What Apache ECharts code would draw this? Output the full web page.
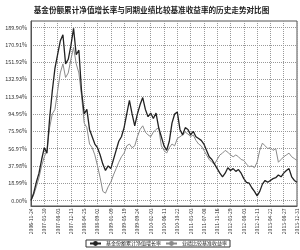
<!DOCTYPE html>
<html><head><meta charset="utf-8">
<script src="https://cdn.jsdelivr.net/npm/echarts@6/dist/echarts.min.js"></script>
<style>html,body{margin:0;padding:0;background:#fff}#c{width:300px;height:250px}</style>
</head><body><div id="c"></div>
<script>
var titleText = '基金份额累计净值增长率与同期业绩比较基准收益率的历史走势对比图';
var seriesNames = ['基金份额累计净值增长率', '业绩比较基准收益率'];
var tickLabels = ['2006-11-24','2007-03-30','2007-08-03','2007-12-13','2008-04-25','2008-09-02','2009-01-09','2009-05-19','2009-09-24','2010-02-03','2010-06-11','2010-10-22','2011-03-03','2011-07-08','2011-11-16','2012-03-29','2012-08-03','2012-12-11','2013-04-22','2013-08-27','2013-12-31'];
var yTicks = [0, 18.99, 37.98, 56.97, 75.96, 94.95, 113.94, 132.93, 151.92, 170.91, 189.90];
var fundValues = [0,8,20,30,45,58,52,90,120,145,160,175,182,150,155,170,189,160,165,120,95,100,78,70,62,58,50,40,33,38,35,45,55,65,70,80,95,110,95,82,95,105,113,100,92,96,90,96,80,70,60,55,65,85,95,97,78,72,80,78,72,76,70,68,66,62,55,48,45,40,35,30,26,30,36,33,35,32,34,30,24,20,19,14,10,5,10,18,22,20,22,24,25,28,26,30,33,35,26,22,20];
var benchValues = [0,6,15,25,38,48,55,80,95,100,120,140,150,135,140,155,168,150,140,115,85,80,62,58,50,38,25,10,8,15,20,28,35,42,48,52,60,62,58,60,70,78,82,75,72,70,75,78,80,60,55,52,58,62,60,68,70,72,75,73,70,72,66,62,60,55,50,45,42,40,45,50,52,55,53,50,48,50,48,45,44,40,37,38,36,42,55,63,60,57,58,55,57,42,45,48,50,52,48,46,44];
var pointsPerTick = 5;
var categories = fundValues.map(function(_, i){ return 'p' + i; });

var chart = echarts.init(document.getElementById('c'), null, {renderer:'canvas'});
var step = yTicks[1] - yTicks[0];
var gridLine = {color:'#999', type:'dotted', width:1};
chart.setOption({
  animation:false,
  textStyle:{fontFamily:'"Noto Sans CJK SC", "DejaVu Sans", sans-serif'},
  graphic:[{
    type:'text', x:151.5, y:10, scaleX:0.76, scaleY:0.76,
    style:{text:titleText, fontSize:10, fontWeight:'bold', fill:'#222', align:'center', verticalAlign:'middle',
      fontFamily:'"Noto Sans CJK SC", sans-serif'}
  }],
  legend:{bottom:3, left:86, orient:'horizontal', itemGap:4, itemWidth:11, itemHeight:6,
    borderColor:'#333', borderWidth:1, padding:[1,3,1,3],
    textStyle:{fontSize:5, color:'#222', fontFamily:'"Noto Sans CJK SC", sans-serif'},
    data:seriesNames},
  grid:[
    {left:31, right:3, top:27.5, bottom:49.5, show:false},
    {left:31, right:3, top:21, bottom:44, show:true, borderColor:'#555', borderWidth:1}
  ],
  xAxis:[
    {type:'category', gridIndex:0, boundaryGap:false, data:categories,
      axisLine:{show:false}, axisTick:{show:false},
      axisLabel:{interval:pointsPerTick-1, rotate:90, fontSize:5, color:'#333', margin:8,
        formatter:function(v, idx){ return tickLabels[Math.round(idx/pointsPerTick)] || ''; }},
      splitLine:{show:false}
    },
    {type:'category', gridIndex:1, boundaryGap:false, data:categories,
      axisLine:{show:true, lineStyle:{color:'#555', width:1}}, axisTick:{show:false}, axisLabel:{show:false},
      splitLine:{show:true, interval:pointsPerTick-1, lineStyle:gridLine}
    }
  ],
  yAxis:[
    {type:'value', gridIndex:0, min:0, max:yTicks[yTicks.length-1], interval:step,
      axisLine:{show:false}, axisTick:{show:false},
      axisLabel:{fontSize:5.5, color:'#333', margin:4,
        formatter:function(v){
          var best = yTicks[0];
          for (var k=0;k<yTicks.length;k++){ if (Math.abs(v-yTicks[k]) < Math.abs(v-best)) best = yTicks[k]; }
          return best.toFixed(2)+'%';
        }},
      splitLine:{show:true, lineStyle:gridLine}
    },
    {type:'value', gridIndex:1, min:0, max:1, axisLine:{show:true, lineStyle:{color:'#555'}}, axisTick:{show:false}, axisLabel:{show:false}, splitLine:{show:false}}
  ],
  series:[
    {name:seriesNames[0], type:'line', xAxisIndex:0, yAxisIndex:0, data:fundValues, showSymbol:false, symbol:'none', lineStyle:{color:'#222', width:1.3}, itemStyle:{color:'#222'}, z:3},
    {name:seriesNames[1], type:'line', xAxisIndex:0, yAxisIndex:0, data:benchValues, showSymbol:false, symbol:'none', lineStyle:{color:'#8a8a8a', width:1}, itemStyle:{color:'#8a8a8a'}, z:2}
  ]
});
</script></body></html>
